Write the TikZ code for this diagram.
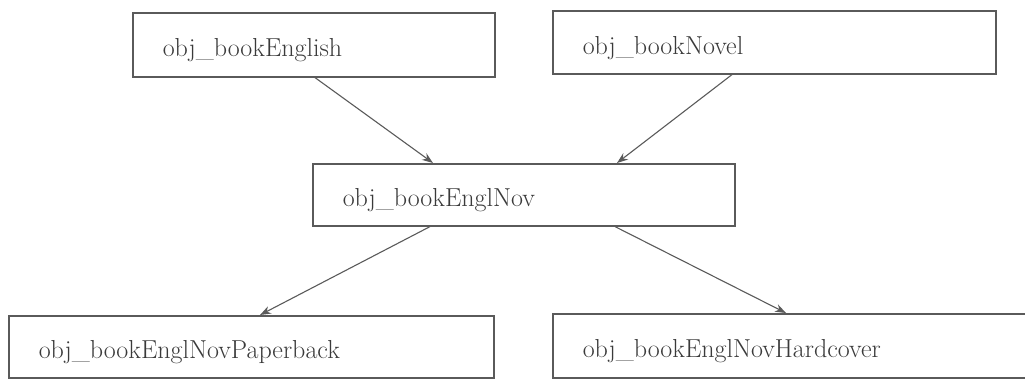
\documentclass[tikz,border=0pt]{standalone}
\usetikzlibrary{arrows.meta}
\definecolor{ink}{HTML}{3A3A3A}
\definecolor{edge}{HTML}{5A5A5A}
\begin{document}
\begin{tikzpicture}[x=1pt,y=-1pt,
  objbox/.style={draw=edge, line width=1.6pt, rectangle, anchor=north west,
    inner xsep=30pt, inner ysep=0pt, align=left, text=ink,
    text height=28pt, text depth=4pt,
    font=\fontsize{26}{31}\selectfont},
  link/.style={draw=edge, line width=1.1pt,
    -{Stealth[length=11pt,width=8pt]}}]
\useasboundingbox (0,0) rectangle (1025,378);

% class boxes
\node[objbox, minimum width=362pt, minimum height=64pt, text width=302pt]
  (english) at (132,12) {obj\_bookEnglish};
\node[objbox, minimum width=443pt, minimum height=63pt, text width=383pt]
  (novel) at (552,10) {obj\_bookNovel};
\node[objbox, minimum width=422pt, minimum height=62pt, text width=362pt]
  (englnov) at (312,163) {obj\_bookEnglNov};
\node[objbox, minimum width=485pt, minimum height=62pt, text width=425pt]
  (paper) at (8,315) {obj\_bookEnglNovPaperback};
\node[objbox, minimum width=485pt, minimum height=64pt, text width=425pt]
  (hard) at (552,313) {obj\_bookEnglNovHardcover};

% inheritance links
\draw[link] ([xshift=183pt]english.south west) -- ([xshift=121pt]englnov.north west);
\draw[link] ([xshift=180pt]novel.south west) -- ([xshift=305pt]englnov.north west);
\draw[link] ([xshift=118pt]englnov.south west) -- ([xshift=252pt]paper.north west);
\draw[link] ([xshift=303pt]englnov.south west) -- ([xshift=234pt]hard.north west);
\end{tikzpicture}
\end{document}
